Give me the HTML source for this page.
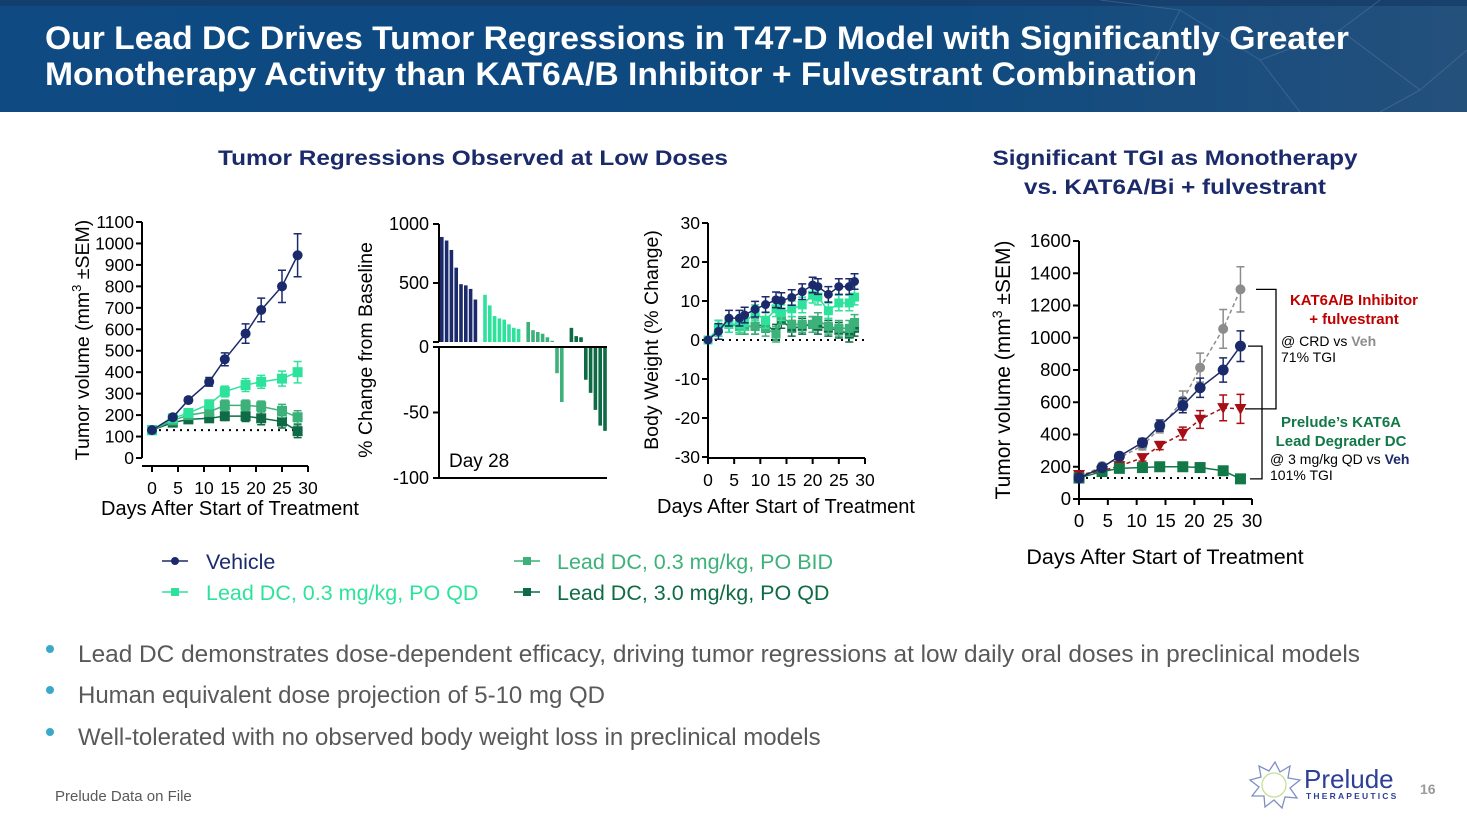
<!DOCTYPE html>
<html><head><meta charset="utf-8">
<style>
html,body{margin:0;padding:0;background:#fff;}
body{width:1467px;height:825px;overflow:hidden;font-family:"Liberation Sans",Arial,sans-serif;}
svg{display:block;}
</style></head>
<body>
<svg id="page" width="1467" height="825" viewBox="0 0 1467 825" xmlns="http://www.w3.org/2000/svg" font-family="Liberation Sans, Arial, sans-serif">
  <defs>
    <linearGradient id="hdr" x1="0" y1="0" x2="1" y2="0">
      <stop offset="0" stop-color="#0f4a82"/>
      <stop offset="0.6" stop-color="#0d4a80"/>
      <stop offset="1" stop-color="#24507c"/>
    </linearGradient>
  </defs>
  <g>
    <rect x="0" y="0" width="1467" height="112" fill="url(#hdr)"/>
    <rect x="0" y="0" width="1467" height="6" fill="#163a66" opacity="0.7"/>
    <g stroke="#6f8fb3" stroke-width="1" opacity="0.35" fill="none">
      <path d="M1180 10 L1260 60 L1340 30 L1420 90 L1467 50 M1260 60 L1300 112 M1340 30 L1380 0 M1420 90 L1380 112 M1100 0 L1180 10 L1150 70"/>
    </g>
    <text x="45" y="49" fill="#fff" font-weight="bold" font-size="32" textLength="1304" lengthAdjust="spacingAndGlyphs">Our Lead DC Drives Tumor Regressions in T47-D Model with Significantly Greater</text>
    <text x="45" y="85" fill="#fff" font-weight="bold" font-size="32" textLength="1152" lengthAdjust="spacingAndGlyphs">Monotherapy Activity than KAT6A/B Inhibitor + Fulvestrant Combination</text>
  </g>

  <text x="473" y="165" text-anchor="middle" fill="#1b2a6b" font-weight="bold" font-size="21" textLength="510" lengthAdjust="spacingAndGlyphs">Tumor Regressions Observed at Low Doses</text>
  <text x="1175" y="165" text-anchor="middle" fill="#1b2a6b" font-weight="bold" font-size="21" textLength="365" lengthAdjust="spacingAndGlyphs">Significant TGI as Monotherapy</text>
  <text x="1175" y="194" text-anchor="middle" fill="#1b2a6b" font-weight="bold" font-size="21" textLength="302" lengthAdjust="spacingAndGlyphs">vs. KAT6A/Bi + fulvestrant</text>

  <g id="c1"></g>
  <g id="c2"></g>
  <g id="c3"></g>
  <g id="c4"></g>

  <g font-size="21.5">
    <g>
      <line x1="162" y1="561" x2="188" y2="561" stroke="#1b2a6b" stroke-width="1.5"/><circle cx="175" cy="561" r="4" fill="#1b2a6b"/>
      <text x="206" y="569" fill="#1b2a6b">Vehicle</text></g>
    <g>
      <line x1="162" y1="592" x2="188" y2="592" stroke="#2de39c" stroke-width="1.5"/><rect x="171" y="588" width="8" height="8" fill="#2de39c"/>
      <text x="206" y="600" fill="#2de39c">Lead DC, 0.3 mg/kg, PO QD</text></g>
    <g>
      <line x1="514" y1="561" x2="540" y2="561" stroke="#3cb179" stroke-width="1.5"/><rect x="523" y="557" width="8" height="8" fill="#3cb179"/>
      <text x="557" y="569" fill="#3cb179">Lead DC, 0.3 mg/kg, PO BID</text></g>
    <g>
      <line x1="514" y1="592" x2="540" y2="592" stroke="#0e6b45" stroke-width="1.5"/><rect x="523" y="588" width="8" height="8" fill="#0e6b45"/>
      <text x="557" y="600" fill="#0e6b45">Lead DC, 3.0 mg/kg, PO QD</text></g>
  </g>

  <g font-size="24" fill="#595959">
    <circle cx="50" cy="649" r="4" fill="#3aa9c9"/>
    <text x="78" y="662" textLength="1282" lengthAdjust="spacingAndGlyphs">Lead DC demonstrates dose-dependent efficacy, driving tumor regressions at low daily oral doses in preclinical models</text>
    <circle cx="50" cy="690" r="4" fill="#3aa9c9"/>
    <text x="78" y="703">Human equivalent dose projection of 5-10 mg QD</text>
    <circle cx="50" cy="732" r="4" fill="#3aa9c9"/>
    <text x="78" y="745">Well-tolerated with no observed body weight loss in preclinical models</text>
  </g>
  <text x="55" y="801" font-size="15" fill="#595959">Prelude Data on File</text>

  <g>
    <g fill="none" stroke="#7f8fc4" stroke-width="1.3">
      <path d="M1275 762 L1280 772 L1290 766 L1288 778 L1300 780 L1290 788 L1297 798 L1285 797 L1282 808 L1274 800 L1265 807 L1264 796 L1252 796 L1259 787 L1250 780 L1261 777 L1259 766 L1269 771 Z"/>
      <circle cx="1274" cy="785" r="12" stroke="#c9dd9a"/>
    </g>
    <text x="1304" y="788" font-size="26" fill="#2d3f96">Prelude</text>
    <text x="1306" y="799" font-size="8.5" fill="#2d3f96" letter-spacing="2.2" font-weight="bold">THERAPEUTICS</text>
  </g>
  <text x="1420" y="794" font-size="14" font-weight="bold" fill="#9a9a9a">16</text>
</svg>

<script>
// ---------- Chart 1 data ----------
const c1Days = [0,4,7,11,14,18,21,25,28];
const c1Vehicle = [130,190,270,355,460,580,690,800,945];
const c1VehicleErr = [10,10,12,20,30,45,55,75,100];
const c1QD = [130,185,210,250,310,340,355,370,400];
const c1QDErr = [10,10,12,20,25,30,30,35,50];
const c1BID = [130,175,200,215,245,245,240,220,190];
const c1BIDErr = [10,10,12,20,25,25,25,30,30];
const c1Hi = [130,165,180,185,195,195,185,170,125];
const c1HiErr = [10,10,10,15,20,25,30,30,30];
const c1YTicks = [0,100,200,300,400,500,600,700,800,900,1000,1100];
const c1XTicks = [0,5,10,15,20,25,30];

// ---------- Chart 2 (waterfall) data ----------
const c2Values = [890,860,780,630,490,480,450,360,null,400,310,220,200,190,150,120,110,null,170,100,85,70,40,10,-20,-42,null,120,50,40,-25,-35,-48,-60,-64];
const c2Groups = ['veh','veh','veh','veh','veh','veh','veh','veh',null,'qd','qd','qd','qd','qd','qd','qd','qd',null,'bid','bid','bid','bid','bid','bid','bid','bid',null,'hi','hi','hi','hi','hi','hi','hi','hi'];
const c2UpperTicks = [0,500,1000];
const c2LowerTicks = [-50,-100];

// ---------- Chart 3 (body weight) data ----------
const c3Days = [0,2,4,6,7,9,11,13,14,16,18,20,21,23,25,27,28];
const c3Vehicle = [0,2.2,5.6,5.6,6.4,7.9,9.1,10.3,10.1,10.9,12.4,14.1,13.7,11.7,13.7,13.7,15];
const c3QD = [0,3,4,4,4.5,7,5,8,7,8,9,11.5,11,7.5,9.5,9.5,11];
const c3BID = [0,3,4,3.5,3.5,3.5,3,1.5,6,4,4,4,5,3.5,3,3,4.5];
const c3Hi = [0,3,4,4,3.5,3.5,4,2,5,3,3.5,4,3.5,3,2.5,1.5,3];
const c3YTicks = [-30,-20,-10,0,10,20,30];
const c3XTicks = [0,5,10,15,20,25,30];

// ---------- Chart 4 data ----------
const c4Days = [0,4,7,11,14,18,21,25,28];
const c4Vehicle = [130,195,265,350,455,580,690,800,948];
const c4VehErr = [15,15,20,25,35,45,60,75,95];
const c4Combo = [130,205,255,330,440,610,815,1055,1300];
const c4ComboErr = [15,15,20,25,30,60,90,120,140];
const c4KAT = [150,175,205,255,331,406,493,565,559];
const c4KATErr = [15,15,20,20,25,40,55,80,90];
const c4Lead = [130,170,190,195,200,200,195,175,125];
const c4LeadErr = [10,10,12,12,15,20,25,25,20];
const c4YTicks = [0,200,400,600,800,1000,1200,1400,1600];
const c4XTicks = [0,5,10,15,20,25,30];

const NS = 'http://www.w3.org/2000/svg';
function mk(parent, tag, attrs, text){
  const e = document.createElementNS(NS, tag);
  for (const k in attrs) e.setAttribute(k, attrs[k]);
  if (text !== undefined) e.textContent = text;
  parent.appendChild(e);
  return e;
}
function lin(d0,d1,r0,r1){ return v => r0 + (v-d0)*(r1-r0)/(d1-d0); }

function yAxis(g, xs, ys, ticks, fs){
  const ax = mk(g,'g',{});
  
  
  mk(ax,'line',{x1:xs,y1:ys(ticks[0]),x2:xs,y2:ys(ticks[ticks.length-1]),stroke:'#000','stroke-width':2});
  ticks.forEach(t=>{
    mk(ax,'line',{x1:xs-6,y1:ys(t),x2:xs,y2:ys(t),stroke:'#000','stroke-width':2});
    mk(ax,'text',{x:xs-8,y:ys(t)+6,'text-anchor':'end','font-size':fs,fill:'#000'},t);
  });
}
function xAxis(g, xsc, y, x0, x1, ticks, fs){
  const ax = mk(g,'g',{});
  
  
  mk(ax,'line',{x1:x0,y1:y,x2:x1,y2:y,stroke:'#000','stroke-width':2});
  ticks.forEach(t=>{
    mk(ax,'line',{x1:xsc(t),y1:y,x2:xsc(t),y2:y+6,stroke:'#000','stroke-width':2});
    mk(ax,'text',{x:xsc(t),y:y+28,'text-anchor':'middle','font-size':fs,fill:'#000'},t);
  });
}
function series(g, name, xs, ys, days, vals, errs, color, marker, dash, msize){
  const s = mk(g,'g',{});
  
  
  const pts = days.map((d,i)=>xs(d)+','+ys(vals[i])).join(' ');
  const pl = {points:pts,fill:'none',stroke:color,'stroke-width':1.5};
  if (dash) pl['stroke-dasharray']=dash;
  mk(s,'polyline',pl);
  days.forEach((d,i)=>{
    const x = xs(d), y = ys(vals[i]);
    if (errs){
      const e = errs[i];
      mk(s,'path',{d:`M${x} ${ys(vals[i]-e)}V${ys(vals[i]+e)}M${x-4} ${ys(vals[i]+e)}h8M${x-4} ${ys(vals[i]-e)}h8`,stroke:color,'stroke-width':1.5,fill:'none'});
    }
    const r = msize;
    if (marker==='circle') mk(s,'circle',{cx:x,cy:y,r:r,fill:color});
    else if (marker==='square') mk(s,'rect',{x:x-r,y:y-r,width:2*r,height:2*r,fill:color});
    else mk(s,'path',{d:`M${x-r} ${y-r*0.8}L${x+r} ${y-r*0.8}L${x} ${y+r}Z`,fill:color});
  });
}
const NAVY='#1b2a6b', LG='#2de39c', MG='#3cb179', DG='#0e6b45';

// ---------- Chart 1 ----------
(function(){
  const g = document.getElementById('c1');
  const xs = lin(0,30,152,308), ys = lin(0,1100,458,222);
  yAxis(g,142,ys,c1YTicks,17.5);
  xAxis(g,xs,466,142,308,c1XTicks,17.5);
  mk(g,'line',{x1:xs(0),y1:ys(130),x2:xs(28),y2:ys(130),stroke:'#000','stroke-width':2,'stroke-dasharray':'2 5'});
  series(g,'series-qd-3-0',xs,ys,c1Days,c1Hi,c1HiErr,DG,'square',null,5);
  series(g,'series-bid-0-3',xs,ys,c1Days,c1BID,c1BIDErr,MG,'square',null,5);
  series(g,'series-qd-0-3',xs,ys,c1Days,c1QD,c1QDErr,LG,'square',null,5);
  series(g,'series-vehicle',xs,ys,c1Days,c1Vehicle,c1VehicleErr,NAVY,'circle',null,5);
  const t = mk(g,'text',{x:0,y:0,transform:'translate(89 340) rotate(-90)','text-anchor':'middle','font-size':19.5,fill:'#000'});
  
  
  t.innerHTML = 'Tumor volume (mm<tspan dy="-8" font-size="13">3</tspan><tspan dy="8"> ±SEM)</tspan>';
  const xt = mk(g,'text',{x:230,y:515,'text-anchor':'middle','font-size':20,fill:'#000'},'Days After Start of Treatment');
  
  
})();

// ---------- Chart 2 ----------
(function(){
  const g = document.getElementById('c2');
  const yU = lin(0,1000,342,224), yL = lin(0,-100,347,478);
  const x0 = 439, pitch = (607-439)/c2Values.length;
  const colors = {veh:NAVY,qd:LG,bid:MG,hi:DG};
  const ax = mk(g,'g',{});
  
  
  mk(ax,'line',{x1:x0,y1:224,x2:x0,y2:342,stroke:'#000','stroke-width':2});
  mk(ax,'line',{x1:x0,y1:347,x2:x0,y2:478,stroke:'#000','stroke-width':2});
  c2UpperTicks.forEach(t=>{
    mk(ax,'line',{x1:x0-6,y1:yU(t),x2:x0,y2:yU(t),stroke:'#000','stroke-width':2});
    if(t!==0) mk(ax,'text',{x:x0-10,y:yU(t)+6,'text-anchor':'end','font-size':18},t);
  });
  mk(ax,'text',{x:x0-10,y:353,'text-anchor':'end','font-size':18},0);
  mk(ax,'line',{x1:x0-6,y1:347,x2:x0,y2:347,stroke:'#000','stroke-width':2});
  c2LowerTicks.forEach(t=>{
    mk(ax,'line',{x1:x0-6,y1:yL(t),x2:x0,y2:yL(t),stroke:'#000','stroke-width':2});
    mk(ax,'text',{x:x0-10,y:yL(t)+6,'text-anchor':'end','font-size':18},t);
  });
  mk(g,'line',{x1:x0,y1:347,x2:607,y2:347,stroke:'#000','stroke-width':2});
  mk(g,'line',{x1:x0,y1:478,x2:607,y2:478,stroke:'#000','stroke-width':2});
  c2Values.forEach((v,i)=>{
    if (v===null) return;
    const x = x0 + 1 + i*pitch;
    const b = (v>=0) ? {x:x,y:yU(v),width:pitch-1.2,height:342-yU(v)} : {x:x,y:348,width:pitch-1.2,height:yL(v)-348};
    b.fill = colors[c2Groups[i]];
    const r = mk(g,'rect',b);
    
    
  });
  mk(g,'text',{x:449,y:467,'font-size':19},'Day 28');
  const t = mk(g,'text',{x:0,y:0,transform:'translate(372 350) rotate(-90)','text-anchor':'middle','font-size':19.5},'% Change from Baseline');
  
  
})();

// ---------- Chart 3 ----------
(function(){
  const g = document.getElementById('c3');
  const xs = lin(0,30,708,865), ys = lin(0,30,340,223);
  yAxis(g,708,ys,c3YTicks,17.5);
  xAxis(g,xs,458,708,865,c3XTicks,17.5);
  mk(g,'line',{x1:xs(0),y1:ys(0),x2:868,y2:ys(0),stroke:'#000','stroke-width':2,'stroke-dasharray':'2 5'});
  const e = (a)=>a.map(v=>v===0?0:2);
  series(g,'series-qd-3-0',xs,ys,c3Days,c3Hi,e(c3Hi),DG,'square',null,4.5);
  series(g,'series-bid-0-3',xs,ys,c3Days,c3BID,e(c3BID),MG,'square',null,4.5);
  series(g,'series-qd-0-3',xs,ys,c3Days,c3QD,e(c3QD),LG,'square',null,4.5);
  series(g,'series-vehicle',xs,ys,c3Days,c3Vehicle,e(c3Vehicle),NAVY,'circle',null,4.5);
  const t = mk(g,'text',{x:0,y:0,transform:'translate(658 340) rotate(-90)','text-anchor':'middle','font-size':19.5},'Body Weight (% Change)');
  
  
  const xt = mk(g,'text',{x:786,y:513,'text-anchor':'middle','font-size':20},'Days After Start of Treatment');
  
  
})();

// ---------- Chart 4 ----------
(function(){
  const g = document.getElementById('c4');
  const xs = lin(0,30,1079,1252), ys = lin(0,1600,499,241);
  yAxis(g,1079,ys,c4YTicks,18.5);
  xAxis(g,xs,499,1079,1252,c4XTicks,18.5);
  mk(g,'line',{x1:xs(0),y1:ys(130),x2:xs(26),y2:ys(130),stroke:'#000','stroke-width':2,'stroke-dasharray':'2 5'});
  series(g,'series-kat6-fulvestrant-vehicle',xs,ys,c4Days,c4Combo,c4ComboErr,'#8c8c8c','circle','4 3',5);
  series(g,'series-kat6ab-inhibitor-fulvestrant',xs,ys,c4Days,c4KAT,c4KATErr,'#a50f15','triangle','4 3',6);
  series(g,'series-lead-dc',xs,ys,c4Days,c4Lead,c4LeadErr,'#127848','square',null,5.5);
  series(g,'series-vehicle',xs,ys,c4Days,c4Vehicle,c4VehErr,NAVY,'circle',null,5.5);
  const t = mk(g,'text',{x:0,y:0,transform:'translate(1010 370) rotate(-90)','text-anchor':'middle','font-size':21});
  
  
  t.innerHTML = 'Tumor volume (mm<tspan dy="-8" font-size="14">3</tspan><tspan dy="8"> ±SEM)</tspan>';
  const xt = mk(g,'text',{x:1165,y:564,'text-anchor':'middle','font-size':21.5},'Days After Start of Treatment');
  
  
  mk(g,'path',{d:`M1256 ${ys(1300)}H1276V${ys(559)}H1245`,fill:'none',stroke:'#000','stroke-width':1.3});
  mk(g,'path',{d:`M1248 ${ys(948)}H1262V${ys(125)}H1250`,fill:'none',stroke:'#000','stroke-width':1.3});
  const a = mk(g,'g',{'font-size':14});
  
  
  a.innerHTML =
    '<text x="1354" y="305" text-anchor="middle" fill="#c00000" font-weight="bold" font-size="15">KAT6A/B Inhibitor</text>'+
    '<text x="1354" y="324" text-anchor="middle" fill="#c00000" font-weight="bold" font-size="15">+ fulvestrant</text>'+
    '<text x="1281" y="346" fill="#000">@ CRD vs <tspan fill="#8c8c8c" font-weight="bold">Veh</tspan></text>'+
    '<text x="1281" y="362" fill="#000">71% TGI</text>'+
    '<text x="1341" y="427" text-anchor="middle" fill="#127848" font-weight="bold" font-size="15">Prelude\u2019s KAT6A</text>'+
    '<text x="1341" y="446" text-anchor="middle" fill="#127848" font-weight="bold" font-size="15">Lead Degrader DC</text>'+
    '<text x="1270" y="464" fill="#000">@ 3 mg/kg QD vs <tspan fill="#1b2a6b" font-weight="bold">Veh</tspan></text>'+
    '<text x="1270" y="480" fill="#000">101% TGI</text>';
})();
</script>
</body></html>
